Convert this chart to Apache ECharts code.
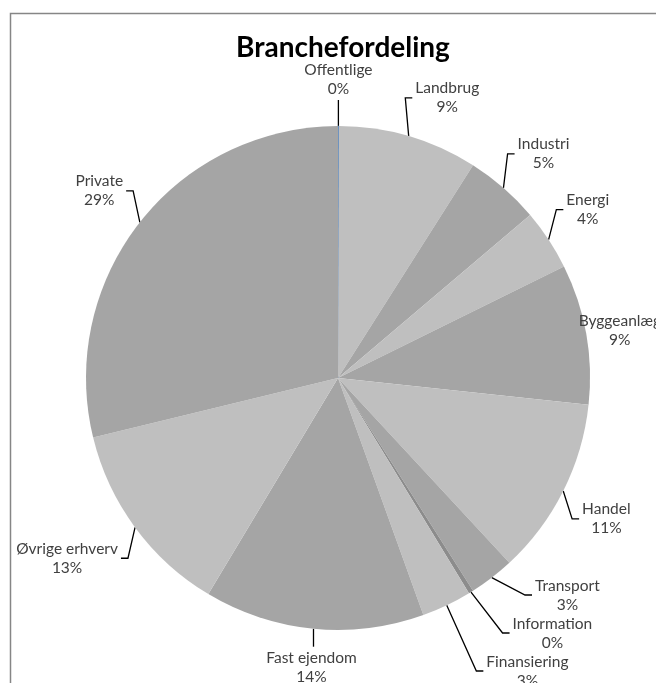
<!DOCTYPE html>
<html>
<head>
<meta charset="utf-8">
<script src="https://cdn.jsdelivr.net/npm/echarts@6/dist/echarts.min.js"></script>
<style>
html,body{margin:0;padding:0;background:#fff;}
#c{width:656px;height:683px;}
</style>
</head>
<body>
<div id="c"></div>
<script>
const categories = ['Offentlige','Landbrug','Industri','Energi','Byggeanlæg','Handel','Transport','Information','Finansiering','Fast ejendom','Øvrige erhverv','Private'];
const values = [0.05, 8.95, 4.8, 3.9, 9.0, 11.4, 2.9, 0.3, 3.2, 14.1, 12.6, 28.8];
const colors = ['#4a7ebb','#bfbfbf','#a5a5a5','#bfbfbf','#a5a5a5','#bfbfbf','#a5a5a5','#8c8c8c','#bfbfbf','#a5a5a5','#bfbfbf','#a5a5a5'];
const title = 'Branchefordeling';

const CX = 338, CY = 378, R = 252;
const GAP = 20, TOP_EXTRA = 8, CROWD_SHIFT = 30, LINE_H = 19, FONT_SIZE = 15.5;
const RIGHT_LIMIT = 662, LEFT_LIMIT = 14, BOTTOM_LIMIT = 690;
const FONT = 'Lato, "Open Sans", sans-serif';

const total = values.reduce((s,v)=>s+v,0);
const labelText = categories.map((n,i)=>[n, Math.round(values[i]/total*100)+'%']);

// measure label boxes
const ctx = document.createElement('canvas').getContext('2d');
ctx.font = FONT_SIZE+'px Lato';
let cum = 0;
const boxes = values.map((v,i)=>{
  const th = (cum + v/2)/total*2*Math.PI; cum += v;
  const s = Math.sin(th), c = -Math.cos(th); // screen dir (x,y)
  const w = Math.max(...labelText[i].map(t=>ctx.measureText(t).width)) + 2;
  const h = LINE_H*2;
  let d = R + GAP;
  let cx, cy, mode;
  if (Math.abs(s) < 0.2) { if (c<0) d += TOP_EXTRA; cx = CX + s*d; cy = CY + c*d + Math.sign(c)*h/2; mode='v'; }
  else if (Math.abs(c) < 0.25) { cx = CX + s*d + Math.sign(s)*w/2; cy = CY + c*d; mode='h'; }
  else { cx = CX + s*d + Math.sign(s)*w/2; cy = CY + c*d + Math.sign(c)*h/2; mode='c'; }
  return {i, th, s, c, w, h, cx, cy, mode, ax: CX + s*R, ay: CY + c*R, side: s>=0?1:-1};
});
function xOverlap(a,b){ return Math.abs(a.cx-b.cx) < (a.w+b.w)/2; }
function yOverlap(a,b){ return Math.abs(a.cy-b.cy) < (a.h+b.h)/2; }
// crowded labels are pushed further out sideways
boxes.forEach(b=>{ b.crowded = boxes.some(o=>o!==b && o.side===b.side && xOverlap(o,b) && yOverlap(o,b)); });
boxes.forEach(b=>{ if (b.crowded) b.cx += b.side*CROWD_SHIFT; });
boxes.forEach(b=>{
  if (b.cx + b.w/2 > RIGHT_LIMIT) b.cx = RIGHT_LIMIT - b.w/2;
  if (b.cx - b.w/2 < LEFT_LIMIT) b.cx = LEFT_LIMIT + b.w/2;
});
// resolve overlaps on each side
[1,-1].forEach(side=>{
  const list = boxes.filter(b=>b.side===side).sort((a,b)=>a.cy-b.cy);
  for (let i=1;i<list.length;i++) for (let j=0;j<i;j++) {
    const a=list[j], b=list[i];
    if (xOverlap(a,b) && b.cy - a.cy < (a.h+b.h)/2) b.cy = a.cy + (a.h+b.h)/2;
  }
  for (let i=list.length-1;i>=0;i--) {
    const b=list[i];
    if (b.cy + b.h/2 > BOTTOM_LIMIT) b.cy = BOTTOM_LIMIT - b.h/2;
    for (let j=i+1;j<list.length;j++) {
      const n=list[j];
      if (xOverlap(b,n) && n.cy - b.cy < (b.h+n.h)/2) b.cy = n.cy - (b.h+n.h)/2;
    }
  }
});
// leader lines
boxes.forEach(b=>{
  const A=[b.ax,b.ay];
  const left=b.cx-b.w/2, right=b.cx+b.w/2, top=b.cy-b.h/2, bottom=b.cy+b.h/2;
  if (b.mode==='v' && b.ax>left && b.ax<right) {
    const y = b.c<0 ? bottom+2 : top-2;
    b.line=[A,[b.ax,y],[b.ax,y]];
  } else {
    const edgeX = b.side>0 ? left : right;
    const distEdge = Math.hypot(edgeX-CX, b.cy-CY);
    if (distEdge < R + 4) { b.line=[A,A,A]; }
    else {
      const sx = b.side>0 ? left-2 : right+2;
      const ex = sx - b.side*7;
      b.line=[A,[ex,b.cy],[sx,b.cy]];
    }
  }
});

const chart = echarts.init(document.getElementById('c'), null, {renderer:'canvas'});
chart.setOption({
  animation:false,
  backgroundColor:'#fff',
  title:{text:title,left:CX,textAlign:'center',top:29,textStyle:{fontFamily:FONT,fontSize:28,fontWeight:'bold',color:'#000'}},
  graphic:[{type:'rect',shape:{x:10.5,y:13.5,width:800,height:800},style:{fill:null,stroke:'#868686',lineWidth:1.5},silent:true}],
  series:[{
    type:'pie',
    center:[CX,CY],
    radius:R,
    startAngle:90,
    clockwise:true,
    avoidLabelOverlap:false,
    data:categories.map((n,i)=>({name:n,value:values[i],
      itemStyle: i===0 ? {color:colors[i],borderColor:colors[i],borderWidth:0.8} : {color:colors[i]}})),
    label:{show:true,position:'outside',fontFamily:FONT,fontSize:FONT_SIZE,color:'#404040',lineHeight:LINE_H,overflow:'none',
      formatter:p=>p.name+'\n'+Math.round(p.percent)+'%'},
    labelLine:{show:true,length:10,length2:5,lineStyle:{color:'#000',width:1.3}},
    labelLayout:function(p){
      const b=boxes[p.dataIndex];
      return {x:b.cx, y:b.cy, align:'center', verticalAlign:'middle', labelLinePoints:b.line};
    }
  }]
});
</script>
</body>
</html>
